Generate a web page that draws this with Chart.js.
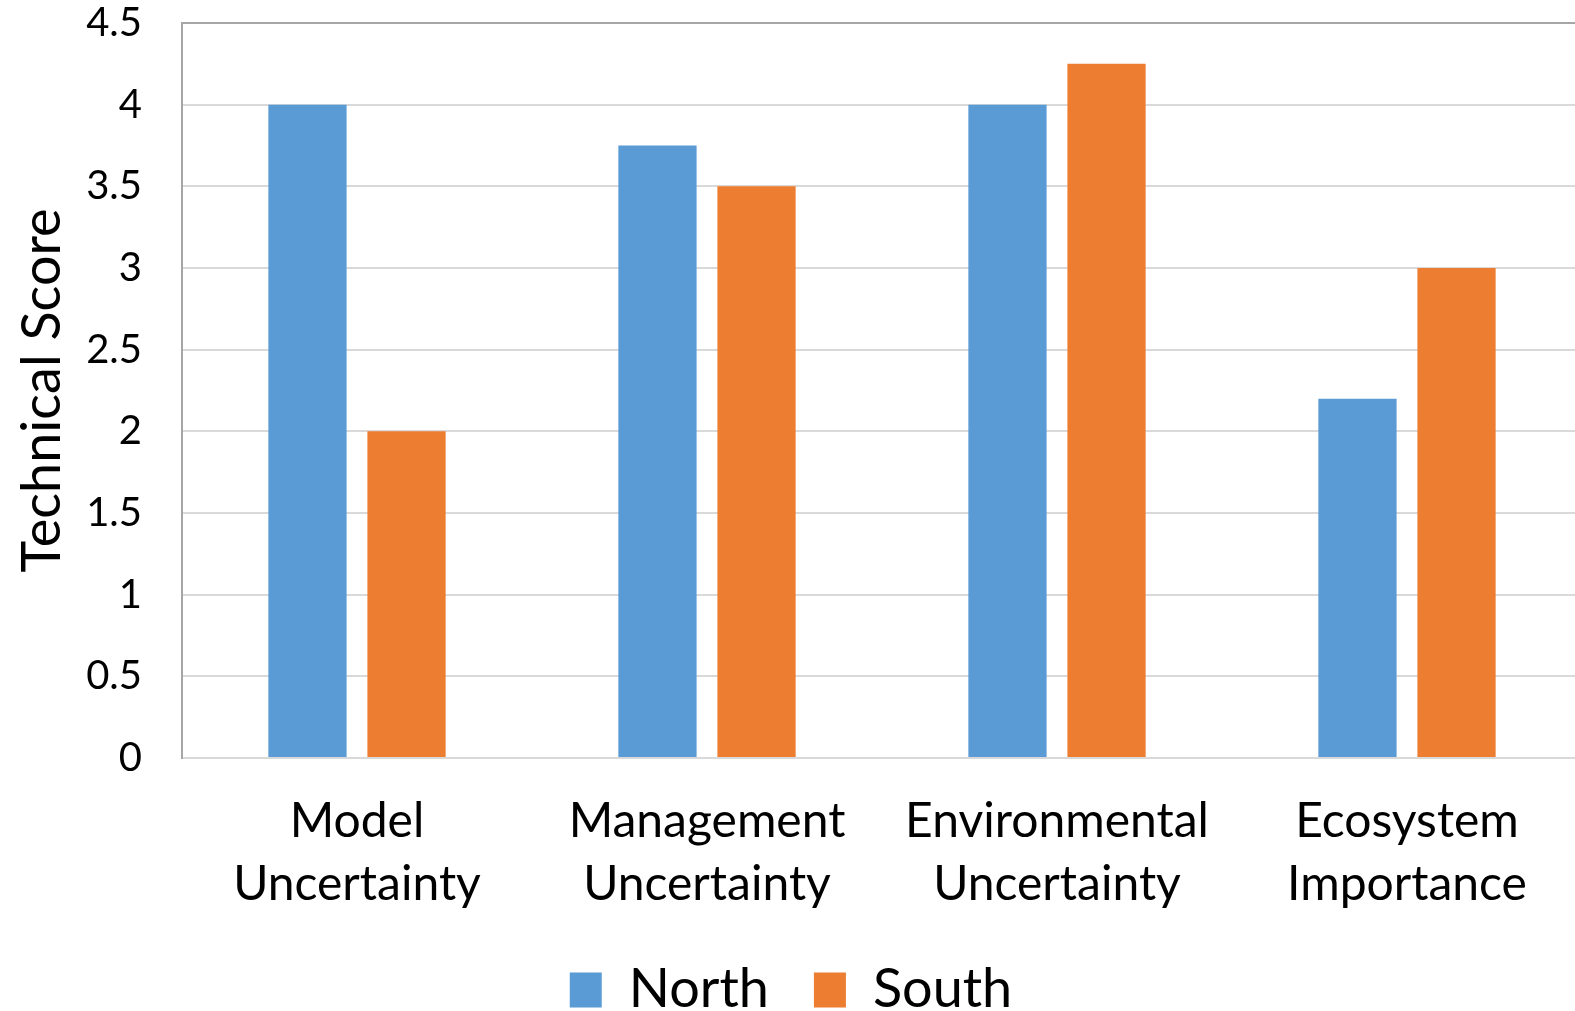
<!DOCTYPE html>
<html>
<head>
<meta charset="utf-8">
<script src="https://cdn.jsdelivr.net/npm/chart.js@4.4.1/dist/chart.umd.min.js"></script>
<style>
  html, body { margin: 0; padding: 0; background: #fff; overflow: hidden; }
  #wrap { position: absolute; left: 0; top: 0; width: 1590px; height: 1027px; }
</style>
</head>
<body>
<div id="wrap"><canvas id="chart"></canvas></div>
<script>
// categories (two-line labels as in the original)
const categories = [
  ['Model', 'Uncertainty'],
  ['Management', 'Uncertainty'],
  ['Environmental', 'Uncertainty'],
  ['Ecosystem', 'Importance'],
];
const northScores = [4, 3.75, 4, 2.2];
const southScores = [2, 3.5, 4.25, 3];

const FONT = "Lato, 'Open Sans', sans-serif";
const $ = (id) => document.getElementById(id);

// top border of the plot area
const frameTop = {
  id: 'frameTop',
  afterDraw(chart) {
    const { ctx, chartArea: a } = chart;
    ctx.save();
    ctx.strokeStyle = '#A6A6A6';
    ctx.lineWidth = 2;
    ctx.beginPath();
    ctx.moveTo(a.left, a.top);
    ctx.lineTo(a.right, a.top);
    ctx.stroke();
    ctx.restore();
  },
};

new Chart($('chart'), {
  type: 'bar',
  data: {
    labels: categories,
    datasets: [
      {
        label: 'North',
        data: northScores,
        backgroundColor: '#5B9BD5',
        categoryPercentage: 0.566,
        barPercentage: 0.79,
      },
      {
        label: 'South',
        data: southScores,
        backgroundColor: '#ED7D31',
        categoryPercentage: 0.566,
        barPercentage: 0.79,
      },
    ],
  },
  options: {
    responsive: true,
    maintainAspectRatio: false,
    animation: false,
    layout: { padding: { top: 23, right: 8, left: 0, bottom: 0 } },
    plugins: {
      tooltip: { enabled: false },
      legend: {
        position: 'bottom',
        labels: {
          color: '#000',
          font: { family: FONT, size: 54 },
          boxWidth: 32,
          boxHeight: 35,
          padding: 45,
        },
      },
    },
    scales: {
      x: {
        grid: { display: false, drawTicks: false },
        border: { color: '#D9D9D9', width: 2 },
        ticks: {
          color: '#000',
          padding: 32,
          maxRotation: 0,
          autoSkip: false,
          font: { family: FONT, size: 48, lineHeight: 1.31 },
        },
        afterFit(s) { s.height = 160; },
      },
      y: {
        min: 0,
        max: 4.5,
        grid: { color: '#D9D9D9', lineWidth: 2, drawTicks: false },
        border: { color: '#A6A6A6', width: 2 },
        ticks: {
          stepSize: 0.5,
          color: '#000',
          padding: 40,
          font: { family: FONT, size: 40 },
          callback: (v) => String(v),
        },
        title: {
          display: true,
          text: 'Technical Score',
          color: '#000',
          padding: { top: 10, bottom: 0 },
          font: { family: FONT, size: 54 },
        },
        afterFit(s) {
          s.width = 182;
          s.paddingTop = 0;
          s.paddingBottom = 0;
        },
      },
    },
  },
  plugins: [frameTop],
});
</script>
</body>
</html>
